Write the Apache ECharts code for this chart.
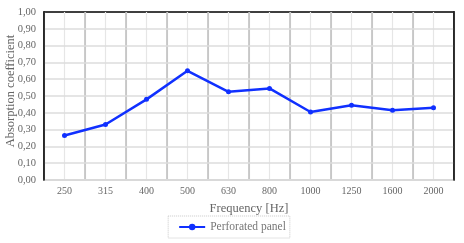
<!DOCTYPE html>
<html><head><meta charset="utf-8">
<script src="https://cdn.jsdelivr.net/npm/echarts@6/dist/echarts.min.js"></script>
<style>html,body{margin:0;padding:0;background:#fff}#c{width:464px;height:243px}</style>
</head><body><div id="c"></div>
<script>
var categories = ['250','315','400','500','630','800','1000','1250','1600','2000'];
var perforatedPanel = [0.265, 0.33, 0.48, 0.65, 0.525, 0.545, 0.405, 0.445, 0.415, 0.43];
var seriesName = 'Perforated panel';
var xTitle = 'Frequency [Hz]';
var yTitle = 'Absorption coefficient';

var serif = '"Liberation Serif", "DejaVu Serif", serif';
var chart = echarts.init(document.getElementById('c'));
chart.setOption({
  animation: false,
  grid: {left: 44, right: 10, top: 12, bottom: 63, containLabel: false, outerBoundsMode: 'none',
    show: true, borderColor: '#000', borderWidth: 1.5},
  legend: {
    data: [seriesName], bottom: 5, left: 'center',
    itemWidth: 26, itemHeight: 8, itemGap: 2,
    borderColor: '#c8c8c8', borderWidth: 1, borderType: 'dotted', padding: [5, 4, 5, 10],
    textStyle: {fontFamily: serif, fontSize: 11.5, color: '#777'}
  },
  xAxis: [{
    type: 'category', data: categories, boundaryGap: true, z: 3,
    name: xTitle, nameLocation: 'middle', nameGap: 22,
    nameTextStyle: {fontFamily: serif, fontSize: 12.5, color: '#666'},
    axisLine: {show: true, lineStyle: {color: '#d0d0d0', width: 2}},
    axisTick: {show: false},
    axisLabel: {fontFamily: serif, fontSize: 10, color: '#666', margin: 6},
    splitLine: {show: true, interval: 0, lineStyle: {color: '#bdbdbd', width: 1.5}}
  }, {
    type: 'value', min: 0, max: 20, interval: 1, position: 'top', offset: 0, z: 1,
    axisLine: {show: false}, axisTick: {show: false}, axisLabel: {show: false},
    splitLine: {show: true, lineStyle: {color: '#e6e6e6', width: 1.2}}
  }],
  yAxis: [{
    type: 'value', min: 0, max: 1, interval: 0.1, z: 4,
    name: yTitle, nameLocation: 'middle', nameGap: 27, nameRotate: 90, nameMoveOverlap: false,
    nameTextStyle: {fontFamily: serif, fontSize: 12.5, color: '#666', padding: [0, 0, 0, 10]},
    axisLine: {show: true, lineStyle: {color: '#000', width: 1.5}},
    axisTick: {show: false},
    axisLabel: {fontFamily: serif, fontSize: 10.5, color: '#666', margin: 8,
      formatter: function (v) { return v.toFixed(2).replace('.', ','); }},
    splitLine: {show: true, showMaxLine: false, lineStyle: {color: '#dcdcdc', width: 1.5}}
  }, {
    type: 'value', min: 0, max: 1, interval: 0.1, position: 'right', z: 10,
    axisLine: {show: true, onZero: false, lineStyle: {color: '#000', width: 1.5}},
    axisTick: {show: false}, axisLabel: {show: false}, splitLine: {show: false}
  }],
  series: [{
    name: seriesName, type: 'line', data: perforatedPanel, xAxisIndex: 0, yAxisIndex: 0,
    symbol: 'circle', symbolSize: 5, z: 5,
    lineStyle: {color: '#1030ff', width: 2.5},
    itemStyle: {color: '#1030ff'}
  }]
});
</script></body></html>
